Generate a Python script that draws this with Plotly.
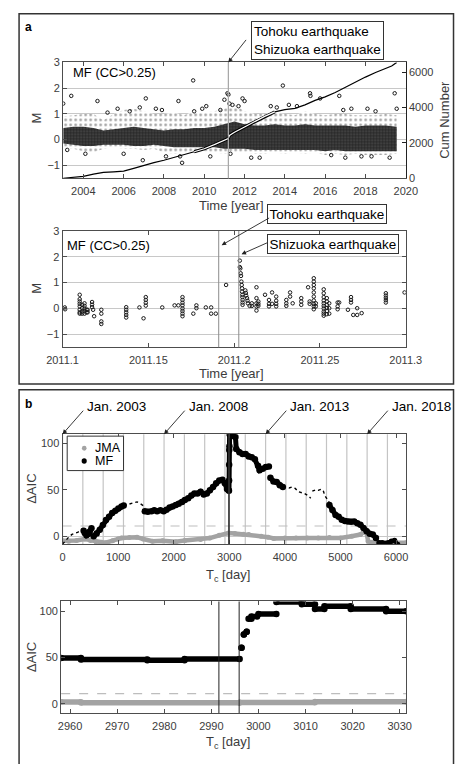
import plotly.graph_objects as go

W, H = 463, 764


def fx(x):
    return x / W


def fy(y):
    return 1 - y / H


FONT = "Liberation Sans, Arial, Helvetica, sans-serif"
TICKC = "#3c3c3c"
AXC = "#4d4d4d"
GRID = "#c8c8c8"
JMA_C = "#a3a3a3"

# ---------------- panel a, top: magnitude of MF events 2003-2020 ----------------
band_t = [2003.0, 2003.5, 2004.0, 2004.5, 2005.0, 2005.5, 2006.0, 2006.5, 2007.0, 2007.5,
          2008.0, 2008.5, 2009.0, 2009.5, 2010.0, 2010.5, 2011.0, 2011.5, 2012.0, 2012.5,
          2013.0, 2013.5, 2014.0, 2014.5, 2015.0, 2015.5, 2016.0, 2016.5, 2017.0, 2017.5,
          2018.0, 2018.5, 2019.0, 2019.55]
band_outer_hi = [0.9, 0.95, 1.0, 1.0, 0.75, 1.0, 1.15, 1.2, 1.1, 1.0,
                 1.0, 1.05, 0.95, 1.1, 1.05, 1.1, 1.2, 1.35, 1.1, 1.0,
                 1.0, 1.05, 1.0, 0.95, 1.1, 1.0, 0.95, 1.0, 1.0, 0.95,
                 0.95, 0.95, 1.0, 0.95]
band_core_hi = [0.45, 0.5, 0.5, 0.45, 0.35, 0.4, 0.45, 0.5, 0.45, 0.4,
                0.35, 0.4, 0.4, 0.45, 0.45, 0.5, 0.6, 0.7, 0.6, 0.55,
                0.55, 0.6, 0.55, 0.55, 0.6, 0.55, 0.55, 0.55, 0.55, 0.5,
                0.55, 0.55, 0.55, 0.5]
band_core_lo = [-0.15, -0.2, -0.25, -0.25, -0.2, -0.2, -0.2, -0.25, -0.25, -0.2,
                -0.25, -0.3, -0.3, -0.3, -0.3, -0.3, -0.35, -0.35, -0.35, -0.4,
                -0.4, -0.4, -0.4, -0.4, -0.4, -0.4, -0.45, -0.4, -0.45, -0.45,
                -0.45, -0.45, -0.45, -0.45]
band_outer_lo = [-0.3, -0.35, -0.45, -0.5, -0.35, -0.3, -0.35, -0.35, -0.4, -0.35,
                 -0.5, -0.55, -0.5, -0.45, -0.45, -0.5, -0.55, -0.5, -0.5, -0.55,
                 -0.55, -0.5, -0.55, -0.5, -0.55, -0.5, -0.6, -0.55, -0.6, -0.55,
                 -0.6, -0.6, -0.6, -0.55]

sparse_t = [2003.0, 2003.4, 2003.2, 2004.7, 2004.1, 2005.7, 2006.3, 2006.8, 2007.1, 2007.6,
            2007.9, 2006.95, 2008.1, 2008.72, 2008.9, 2008.8, 2009.45, 2009.5, 2009.9, 2010.3,
            2010.8, 2011.0, 2011.15, 2011.2, 2011.3, 2011.25, 2011.4, 2011.7, 2011.9, 2012.0,
            2012.33, 2012.75, 2013.3, 2013.9, 2014.2, 2014.6, 2015.25, 2015.27, 2015.75, 2016.3,
            2016.7, 2017.0, 2017.3, 2018.1, 2018.3, 2018.5, 2019.2, 2019.45, 2019.55, 2005.2,
            2006.0, 2010.1, 2013.6, 2016.9, 2017.8]
sparse_m = [1.4, 1.7, -0.4, 1.5, -0.55, 1.2, 1.1, 1.25, 1.6, 1.2,
            1.15, -0.8, -0.65, 1.5, -0.9, -0.65, 2.3, 1.1, 1.2, -0.65,
            1.15, 1.55, 1.8, 1.75, -0.55, 1.4, 1.35, 1.3, 1.6, 1.5,
            -0.7, -0.7, 1.3, 2.1, 1.35, 1.3, 1.8, 1.7, 1.6, -0.6,
            1.7, -0.7, 1.2, 1.2, -0.65, 1.1, -0.7, 1.8, 1.2, 1.05,
            -0.55, 1.3, 1.25, 1.15, -0.65]

cum_t = [2003.0, 2003.5, 2004.0, 2004.5, 2005.0, 2005.5, 2006.0, 2006.5, 2007.0, 2007.5,
         2008.0, 2008.5, 2009.0, 2009.5, 2010.0, 2010.5, 2011.0, 2011.19, 2011.25, 2011.5,
         2012.0, 2012.5, 2013.0, 2013.5, 2014.0, 2014.5, 2015.0, 2015.5, 2016.0, 2016.5,
         2017.0, 2017.5, 2018.0, 2018.5, 2019.0, 2019.3, 2019.55]
cum_n = [0, 40, 110, 230, 330, 360, 400, 560, 740, 880,
         1020, 1170, 1330, 1500, 1670, 1900, 2150, 2250, 2420, 2600,
         2900, 3200, 3500, 3750, 3880, 3950, 4150, 4400, 4600, 4850,
         5150, 5450, 5720, 5980, 6200, 6350, 6550]

tohoku_year = 2011.191
shizuoka_year = 2011.2027

# ---------------- panel a, bottom: March 2011 zoom ----------------
zoom_t = [2011.1013, 2011.1015,
          2011.110, 2011.110, 2011.110, 2011.110, 2011.110, 2011.110, 2011.110, 2011.110,
          2011.1114, 2011.1114, 2011.1114, 2011.1114,
          2011.1128, 2011.1128, 2011.1128, 2011.1128, 2011.1128,
          2011.114, 2011.114, 2011.1146, 2011.1146,
          2011.1172, 2011.1172, 2011.1172, 2011.1178, 2011.1184,
          2011.1226, 2011.1226, 2011.1226, 2011.1226,
          2011.1371, 2011.1371, 2011.1371, 2011.1371, 2011.1371,
          2011.1448, 2011.1472, 2011.1485, 2011.1485, 2011.1485, 2011.1485,
          2011.1581, 2011.1653, 2011.1675,
          2011.1699, 2011.1699, 2011.1699, 2011.1699, 2011.1699, 2011.1699, 2011.1699, 2011.1699,
          2011.1762, 2011.178, 2011.178, 2011.1835, 2011.1866, 2011.1866, 2011.1893, 2011.1953,
          2011.2033, 2011.2033, 2011.2036, 2011.2038, 2011.204, 2011.2042, 2011.2044, 2011.2046,
          2011.2046, 2011.2048, 2011.2048, 2011.2049, 2011.2049, 2011.2049,
          2011.2065, 2011.2068, 2011.207, 2011.2075, 2011.2078, 2011.208, 2011.209,
          2011.2103, 2011.2103, 2011.213, 2011.213, 2011.213, 2011.213, 2011.213,
          2011.2141, 2011.2141, 2011.2141, 2011.218, 2011.2203, 2011.2203, 2011.2203,
          2011.2221, 2011.2221, 2011.2245, 2011.2245, 2011.2245, 2011.2245,
          2011.2304, 2011.2304, 2011.2304, 2011.2326, 2011.2326, 2011.2341,
          2011.2391, 2011.2391, 2011.2391, 2011.2431, 2011.244, 2011.244,
          2011.2464, 2011.2464, 2011.2464, 2011.2464, 2011.2464, 2011.2464, 2011.2464, 2011.2464,
          2011.2464, 2011.2464, 2011.2476, 2011.2476,
          2011.2522, 2011.2522, 2011.2522, 2011.2522, 2011.2522, 2011.2522, 2011.2522, 2011.2522,
          2011.2522, 2011.2522,
          2011.254, 2011.254, 2011.254, 2011.254, 2011.254, 2011.254,
          2011.2554, 2011.2554, 2011.2554,
          2011.2603, 2011.2603, 2011.2603, 2011.2612, 2011.2663,
          2011.2681, 2011.2681, 2011.2681, 2011.2694, 2011.2717, 2011.2717, 2011.2743,
          2011.2884, 2011.2884, 2011.2884, 2011.2884, 2011.2884, 2011.2993]
zoom_m = [0.04, -0.03,
          0.53, 0.36, 0.27, 0.18, 0.08, -0.05, -0.15, -0.2,
          0.14, 0.01, -0.12, -0.2,
          0.2, 0.1, 0.0, -0.1, -0.2,
          -0.05, -0.15, -0.05, -0.15,
          0.25, 0.15, 0.05, -0.05, -0.3,
          -0.05, -0.2, -0.5, -0.6,
          0.05, -0.05, -0.15, -0.25, -0.35,
          0.04, -0.38, 0.44, 0.33, 0.22, 0.11,
          0.04, 0.12, 0.12,
          0.44, 0.33, 0.22, 0.12, 0.0, -0.1, -0.2, -0.3,
          -0.2, 0.12, 0.01, 0.04, 0.04, -0.2, -0.2, 0.91,
          1.85, 1.6, 1.55, 1.36, 1.26, 1.04, 0.91, 0.78,
          0.65, 0.53, 0.44, 0.33, 0.23, 0.14,
          0.7, 0.6, 0.5, 0.4, 0.3, 0.2, 0.1,
          0.2, 0.1, 0.82, 0.4, 0.2, 0.08, -0.08,
          0.27, 0.18, 0.1, 0.53, 0.33, 0.18, 0.08,
          0.62, 0.18, 0.46, 0.3, 0.18, 0.08,
          0.33, 0.2, 0.1, 0.62, 0.46, 0.2,
          0.4, 0.27, 0.14, 0.82, 0.27, 0.18,
          1.17, 1.04, 0.91, 0.78, 0.62, 0.46, 0.31, 0.18,
          0.08, -0.03, 0.2, 0.08,
          0.74, 0.59, 0.44, 0.31, 0.2, 0.1, 0.0, -0.12,
          -0.2, -0.28,
          0.4, 0.27, 0.14, 0.02, -0.1, -0.22,
          0.2, 0.01, -0.2,
          0.08, -0.03, 0.23, 0.23, -0.05,
          0.44, 0.33, 0.23, -0.25, -0.25, 0.01, -0.18,
          0.59, 0.5, 0.41, 0.32, 0.23, 0.62]

# ---------------- panel b, top: Delta AIC vs change time Tc ----------------
year_start_days = [0, 365, 731, 1096, 1461, 1826, 2192, 2557, 2922, 3287, 3653,
                   4018, 4383, 4748, 5114, 5479, 5844]
jan_label_days = [0, 1826, 3653, 5479]
jan_labels = ["Jan. 2003", "Jan. 2008", "Jan. 2013", "Jan. 2018"]
tc_tohoku = 2991.6
tc_shizuoka = 2995.9
aic_threshold = 11

# MF: sections drawn with large symbols (None separates sections)
mf_big_tc = [380, 400, 430, 460, 490, 520, None,
             560, 614, 670, 725, 781, 837, 893, 949, 1004, 1060, 1100, None,
             1480, 1535, 1600, 1650, 1700, 1760, 1820, 1870, 1926, 1980, 2038, 2090, 2149,
             2200, 2261, 2317, 2372, 2428, 2484, 2540, 2596, 2651, 2707, 2763, 2819, 2875,
             2919, 2958, 2986, 2994, 2996, 2997, 2999, 3002, 3005, 3040, 3069, 3110, 3125,
             3181, 3237, 3293, 3348, 3404, 3460, 3516, 3544, 3600, 3656, 3712, None,
             3739, 3795, 3851, 3907, 3963, None,
             4800, 4855, 4911, 4967, 5023, 5080, 5135, 5190, 5246, 5302, 5358, 5414, 5470,
             5525, 5581, 5637]
mf_big_val = [6, 3.5, 1, 2.5, 5, 8.5, None,
              0, 3, 7, 12, 17.5, 21, 25, 27.5, 30, 32, 33, None,
              27, 26.5, 27, 28, 27, 28, 27, 28.5, 31, 32, 33.7, 35, 37,
              39, 41, 44, 46, 46, 48, 45, 46, 49.5, 53, 57, 60, 61,
              57, 51, 49.5, 49, 60, 77, 93, 97, 110, 109, 108, 107, 94,
              90.5, 88.5, 88.5, 86, 85, 83, 76, 71, 72.7, 74.5, 75.2, None,
              63, 59, 58.5, 55, 53, None,
              33.7, 28.4, 23, 21, 17.7, 16.5, 16, 15.5, 16, 14, 12.4, 9, 5.3,
              2.8, 1.8, -1.8]
mf_mid_tc = [5693, 5749, 5805, 5860, 5916, 5972, 6028]
mf_mid_val = [-7, -7, -8, -7, -5.3, -4.6, -8.9]
# MF: sections drawn with small symbols
mf_small_tc = [0, 60, 110, 170, 230, 280, 330, 360, None,
               1100, 1160, 1220, 1280, 1340, 1400, 1450, 1480, None,
               3963, 4018, 4074, 4130, 4186, 4241, 4297, 4353, 4409, 4465, None,
               4493, 4550, 4600, 4650, 4688, 4716, 4760, 4800]
mf_small_val = [-8.5, -4, -1, 2, 3, 4.5, 7, 8, None,
                33, 34, 35.5, 36, 37, 35, 33, 30, None,
                53, 52.5, 52, 53, 51.5, 48, 47, 46, 44, 41, None,
                48.5, 50, 49.5, 50.5, 49.5, 44, 40, 36]
jma_tc = [0, 112, 250, 400, 502, 600, 700, 781, 900, 1000, 1060, 1200, 1339, 1450, 1618,
          1800, 2038, 2200, 2484, 2650, 2819, 2986, 3100, 3250, 3350, 3572, 3700, 3800,
          4000, 4200, 4400, 4600, 4800, 5000, 5200, 5358, 5414, 5470, 5497, 5550, 5700,
          6000, 6180]
jma_val = [-5, -5.3, -4.5, -3, -4.6, -6, -6.5, -7, -5, -3, -1.8, -1.5, -1, -3, -5.3,
           -5, -6, -4.5, -3.5, -2, 1, 3.5, 3, 2, 1.8, 0, -1, -2.5,
           -2, -1.8, -2, -1.8, -1.5, -1.8, 0, 1.8, 4.3, 3.5, -5.3, -6.5, -7,
           -7, -7]

# ---------------- panel b, bottom: zoom around the 2011 events ----------------
mf_seg_start = [2958.1, 2962.3, 2976.4, 2984.3, 2996.4, 2996.9, 2997.5, 2997.9, 2998.5,
                3000.0, 3003.8, 3009.2, 3012.0, 3014.0, 3019.6, 3027.1]
mf_seg_end = [2962.3, 2976.4, 2984.3, 2996.0, 2996.4, 2996.9, 2997.5, 2998.5, 2999.7,
              3003.8, 3009.2, 3012.0, 3014.0, 3019.6, 3027.1, 3031.4]
mf_seg_val = [49.5, 47.8, 47.2, 48.5, 60.5, 75, 78, 92, 94.5,
              97, 110, 107.5, 102.5, 105.5, 102.5, 100]
jma_seg_start = [2958.1, 2962.3, 2996.0, 3012.0]
jma_seg_end = [2962.3, 2996.0, 3012.0, 3031.4]
jma_seg_val = [1.8, 1.0, 1.5, 2.2]


def segments(starts, ends, vals):
    xs, ys = [], []
    for s, e, v in zip(starts, ends, vals):
        xs += [s, e, None]
        ys += [v, v, None]
    return xs, ys


fig = go.Figure()

# ---- a, top: dense scatter rendered as dotted bands plus isolated events ----
fig.add_trace(go.Scatter(x=band_t, y=band_outer_lo, mode="lines", line=dict(width=0),
                         hoverinfo="skip", xaxis="x", yaxis="y"))
fig.add_trace(go.Scatter(x=band_t, y=band_outer_hi, mode="lines", line=dict(width=0),
                         fill="tonexty", hoverinfo="skip",
                         fillpattern=dict(shape=".", fgcolor="#333", bgcolor="white",
                                          size=5, solidity=0.22),
                         xaxis="x", yaxis="y"))
fig.add_trace(go.Scatter(x=band_t, y=band_core_lo, mode="lines", line=dict(width=0),
                         hoverinfo="skip", xaxis="x", yaxis="y"))
fig.add_trace(go.Scatter(x=band_t, y=band_core_hi, mode="lines", line=dict(width=0),
                         fill="tonexty", hoverinfo="skip",
                         fillpattern=dict(shape=".", fgcolor="black", bgcolor="#4a4a4a",
                                          size=3, solidity=0.55),
                         xaxis="x", yaxis="y"))
fig.add_trace(go.Scatter(x=sparse_t, y=sparse_m, mode="markers",
                         marker=dict(symbol="circle-open", size=3.5, color="#1a1a1a",
                                     line=dict(width=1)),
                         xaxis="x", yaxis="y"))
# cumulative number: plain line, outlined where it crosses the dense band
cum_in_band = [i for i, t in enumerate(cum_t) if 2009.3 <= t <= 2013.6]
fig.add_trace(go.Scatter(x=cum_t, y=cum_n, mode="lines", line=dict(color="black", width=1.2),
                         xaxis="x", yaxis="y2"))
fig.add_trace(go.Scatter(x=[cum_t[i] for i in cum_in_band], y=[cum_n[i] for i in cum_in_band],
                         mode="lines", line=dict(color="black", width=3.2),
                         xaxis="x", yaxis="y2"))
fig.add_trace(go.Scatter(x=[cum_t[i] for i in cum_in_band], y=[cum_n[i] for i in cum_in_band],
                         mode="lines", line=dict(color="white", width=1.2),
                         xaxis="x", yaxis="y2"))

# ---- a, bottom ----
fig.add_trace(go.Scatter(x=zoom_t, y=zoom_m, mode="markers",
                         marker=dict(symbol="circle-open", size=3.5, color="#1a1a1a",
                                     line=dict(width=1)),
                         xaxis="x2", yaxis="y3"))

# ---- b, top ----
fig.add_trace(go.Scatter(x=jma_tc, y=jma_val, mode="lines+markers",
                         line=dict(color=JMA_C, width=4.5),
                         marker=dict(color=JMA_C, size=5),
                         xaxis="x3", yaxis="y4"))
fig.add_trace(go.Scatter(x=mf_small_tc, y=mf_small_val, mode="lines",
                         line=dict(color="black", width=1.4, dash="dot"),
                         xaxis="x3", yaxis="y4"))
fig.add_trace(go.Scatter(x=mf_big_tc, y=mf_big_val, mode="lines+markers",
                         line=dict(color="black", width=5),
                         marker=dict(color="black", size=6.5),
                         xaxis="x3", yaxis="y4"))
fig.add_trace(go.Scatter(x=mf_mid_tc, y=mf_mid_val, mode="lines+markers",
                         line=dict(color="black", width=4),
                         marker=dict(color="black", size=5.5),
                         xaxis="x3", yaxis="y4"))

# ---- b, bottom ----
jx, jy = segments(jma_seg_start, jma_seg_end, jma_seg_val)
fig.add_trace(go.Scatter(x=jx, y=jy, mode="lines+markers",
                         line=dict(color=JMA_C, width=5.5),
                         marker=dict(color=JMA_C, size=6),
                         xaxis="x4", yaxis="y5"))
mx, my = segments(mf_seg_start, mf_seg_end, mf_seg_val)
fig.add_trace(go.Scatter(x=mx, y=my, mode="lines+markers",
                         line=dict(color="black", width=5.5),
                         marker=dict(color="black", size=6.5),
                         xaxis="x4", yaxis="y5"))

fig.update_traces(showlegend=False)

tickfont = dict(family=FONT, size=11, color=TICKC)
common_x = dict(showline=True, linecolor=AXC, linewidth=1, mirror="ticks", ticks="inside",
                ticklen=4, tickcolor=AXC, tickfont=tickfont, showgrid=False, zeroline=False,
                ticklabelstandoff=3)
common_y = dict(showline=True, linecolor=AXC, linewidth=1, ticks="inside", ticklen=4,
                tickcolor=AXC, tickfont=tickfont, zeroline=False)

a1_top, a1_bot = 57.3, 175.0
a2_top, a2_bot = 228.5, 346.7
b1_top, b1_bot = 435.0, 546.7
b2_top, b2_bot = 605.0, 718.3

layout = dict(
    width=W, height=H, margin=dict(l=0, r=0, t=0, b=0),
    paper_bgcolor="white", plot_bgcolor="white", showlegend=False,
    font=dict(family=FONT, color="black"),
    xaxis=dict(common_x, domain=[fx(50.7), fx(418.7)], range=[2003, 2020],
               tickvals=list(range(2004, 2021, 2)), anchor="y"),
    yaxis=dict(common_y, domain=[fy(a1_bot), fy(a1_top)], range=[-1.5, 3],
               tickvals=[-1, 0, 1, 2, 3], showgrid=True, gridcolor=GRID, gridwidth=1,
               anchor="x", mirror=False),
    yaxis2=dict(common_y, domain=[fy(a1_bot), fy(a1_top)], range=[0, 6550],
                tickvals=[0, 2000, 4000, 6000], overlaying="y", side="right",
                anchor="x", showgrid=False, linecolor="#222", tickcolor="#222"),
    xaxis2=dict(common_x, domain=[fx(50), fx(418.7)], range=[2011.1, 2011.3],
                tickvals=[2011.1, 2011.15, 2011.2, 2011.25, 2011.3],
                ticktext=["2011.1", "2011.15", "2011.2", "2011.25", "2011.3"], anchor="y3"),
    yaxis3=dict(common_y, domain=[fy(a2_bot), fy(a2_top)], range=[-1.5, 3],
                tickvals=[-1, 0, 1, 2, 3], showgrid=True, gridcolor=GRID, anchor="x2",
                mirror="ticks"),
    xaxis3=dict(common_x, domain=[fx(50), fx(419.3)], range=[0, 6184],
                tickvals=[0, 1000, 2000, 3000, 4000, 5000, 6000], anchor="y4"),
    yaxis4=dict(common_y, domain=[fy(b1_bot), fy(b1_top)], range=[-8.5, 110],
                tickvals=[0, 50, 100], showgrid=False, zeroline=True, zerolinecolor=GRID,
                zerolinewidth=1.2, anchor="x3", mirror="ticks"),
    xaxis4=dict(common_x, domain=[fx(48.5), fx(419.3)], range=[2958.1, 3031.4],
                tickvals=list(range(2960, 3031, 10)), anchor="y5"),
    yaxis5=dict(common_y, domain=[fy(b2_bot), fy(b2_top)], range=[-10, 110.6],
                tickvals=[0, 50, 100], showgrid=False, anchor="x4", mirror="ticks"),
)
fig.update_layout(**layout)

shapes = []
# outer frames of panels a and b
shapes.append(dict(type="rect", xref="paper", yref="paper", x0=fx(3.3), x1=fx(470),
                   y0=fy(384), y1=fy(8), line=dict(color="#333", width=1.5)))
shapes.append(dict(type="rect", xref="paper", yref="paper", x0=fx(3.3), x1=fx(470),
                   y0=fy(790), y1=fy(390), line=dict(color="#333", width=1.5)))
# event lines
for t in (tohoku_year, shizuoka_year):
    shapes.append(dict(type="line", xref="x", yref="y domain", x0=t, x1=t, y0=0, y1=1,
                       line=dict(color="#a8a8a8", width=1)))
    shapes.append(dict(type="line", xref="x2", yref="y3 domain", x0=t, x1=t, y0=0, y1=1,
                       line=dict(color="#8c8c8c", width=1)))
for d in year_start_days:
    shapes.append(dict(type="line", xref="x3", yref="y4 domain", x0=d, x1=d, y0=0, y1=1,
                       line=dict(color="#c4c4c4", width=1.2), layer="below"))
for t in (tc_tohoku, tc_shizuoka):
    shapes.append(dict(type="line", xref="x3", yref="y4 domain", x0=t, x1=t, y0=0, y1=1,
                       line=dict(color="#333", width=1.2)))
    shapes.append(dict(type="line", xref="x4", yref="y5 domain", x0=t, x1=t, y0=0, y1=1,
                       line=dict(color="#222", width=1)))
# threshold lines
shapes.append(dict(type="line", xref="x3 domain", yref="y4", x0=0, x1=1,
                   y0=aic_threshold, y1=aic_threshold,
                   line=dict(color="#bdbdbd", width=1.2, dash="dash"), layer="below"))
shapes.append(dict(type="line", xref="x4 domain", yref="y5", x0=0, x1=1,
                   y0=aic_threshold, y1=aic_threshold,
                   line=dict(color="#bdbdbd", width=1.2, dash="dash"), layer="below"))
# legend frame and symbols
shapes.append(dict(type="rect", xref="paper", yref="paper", x0=fx(55), x1=fx(115.5),
                   y0=fy(472), y1=fy(437), line=dict(color="#333", width=1),
                   fillcolor="white"))
shapes.append(dict(type="circle", xref="paper", yref="paper", x0=fx(70.8), x1=fx(75.8),
                   y0=fy(451.8), y1=fy(446.8), line=dict(width=0), fillcolor=JMA_C))
shapes.append(dict(type="circle", xref="paper", yref="paper", x0=fx(70.5), x1=fx(76),
                   y0=fy(465), y1=fy(459.5), line=dict(width=0), fillcolor="black"))
fig.update_layout(shapes=shapes)

ann = []


def text(x, y, s, size=13, xanchor="center", angle=0, color="black", bold=False,
         **kw):
    ann.append(dict(xref="paper", yref="paper", x=fx(x), y=fy(y), text=s,
                    showarrow=False, xanchor=xanchor, yanchor="middle", textangle=angle,
                    font=dict(family=FONT, size=size, color=color,
                              weight="bold" if bold else "normal"), **kw))


text(13, 21, "a", size=12, bold=True)
text(13, 404, "b", size=12, bold=True)
text(59, 68, "MF (CC>0.25)", size=13, xanchor="left")
text(53, 243, "MF (CC>0.25)", size=13, xanchor="left")
text(21.7, 114, "M", size=13, angle=-90, color=TICKC)
text(21.7, 287, "M", size=13, angle=-90, color=TICKC)
text(231, 202.5, "Time [year]", size=13, color=TICKC)
text(231, 373.5, "Time [year]", size=13, color=TICKC)
text(460.5, 116, "Cum Number", size=13, angle=-90, color=TICKC)
text(16.7, 491, "ΔAIC", size=13, angle=-90, color=TICKC)
text(16.7, 662, "ΔAIC", size=13, angle=-90, color=TICKC)
text(228, 579, "T<sub>c</sub> [day]", size=13, color=TICKC)
text(228, 748, "T<sub>c</sub> [day]", size=13, color=TICKC)
text(83, 449.3, "JMA", size=12.5, xanchor="left")
text(83, 462.3, "MF", size=12.5, xanchor="left")

# labelled boxes with arrows for the events
ann.append(dict(xref="paper", yref="paper", x=fx(252.5), y=fy(15), xanchor="left",
                yanchor="top", align="left", showarrow=False,
                text="Tohoku earthquake<br>Shizuoka earthquake",
                font=dict(family=FONT, size=13.5, color="black"),
                bordercolor="#333", borderwidth=1, borderpad=2, bgcolor="white"))
ann.append(dict(xref="x", yref="y domain", x=tohoku_year, y=1, ax=19, ay=-24, text="",
                showarrow=True, arrowhead=2, arrowsize=1, arrowwidth=0.9,
                arrowcolor="#222"))
ann.append(dict(xref="paper", yref="paper", x=fx(269.5), y=fy(201.5), xanchor="left",
                yanchor="top", align="left", showarrow=False, text="Tohoku earthquake",
                font=dict(family=FONT, size=13.5, color="black"),
                bordercolor="#333", borderwidth=1, borderpad=1.5, bgcolor="white"))
ann.append(dict(xref="paper", yref="paper", x=fx(269.5), y=fy(231.5), xanchor="left",
                yanchor="top", align="left", showarrow=False, text="Shizuoka earthquake",
                font=dict(family=FONT, size=13.5, color="black"),
                bordercolor="#333", borderwidth=1, borderpad=1.5, bgcolor="white"))
ann.append(dict(xref="x2", yref="y3", x=2011.1927, y=2.45, ax=49, ay=-28, text="",
                showarrow=True, arrowhead=2, arrowsize=1, arrowwidth=0.9,
                arrowcolor="#222"))
ann.append(dict(xref="x2", yref="y3", x=2011.2043, y=2.1, ax=27, ay=-12, text="",
                showarrow=True, arrowhead=2, arrowsize=1, arrowwidth=0.9,
                arrowcolor="#222"))
for d, lab in zip(jan_label_days, jan_labels):
    ann.append(dict(xref="x3", yref="y4 domain", x=d, y=1, ax=22, ay=-25, text="",
                    showarrow=True, arrowhead=2, arrowsize=1, arrowwidth=0.9,
                    arrowcolor="#222"))
    ann.append(dict(xref="x3", yref="y4 domain", x=d, y=1, xshift=54, yshift=28,
                    text=lab, showarrow=False, xanchor="center", yanchor="middle",
                    font=dict(family=FONT, size=13.5, color="black")))
fig.update_layout(annotations=ann)

fig.write_html("out.html")
